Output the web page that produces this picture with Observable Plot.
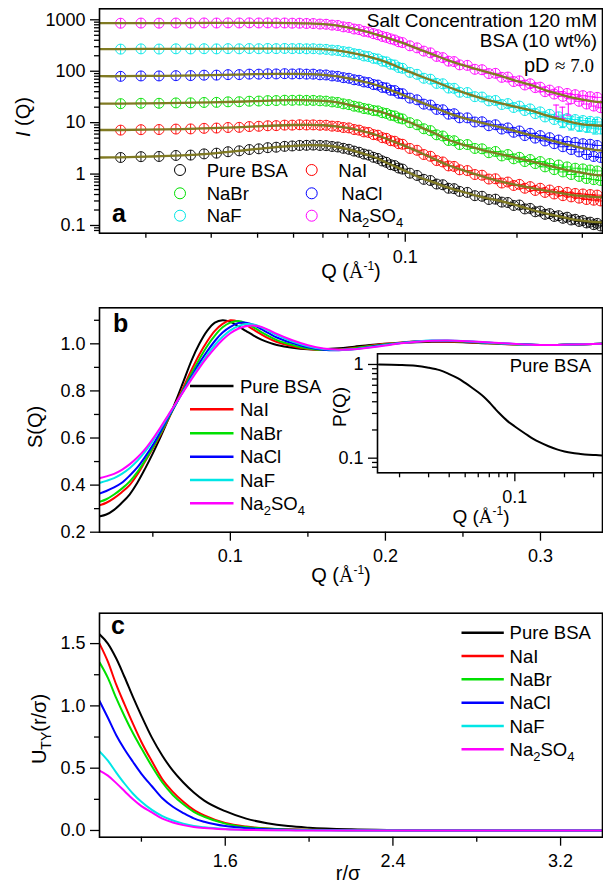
<!DOCTYPE html>
<html><head><meta charset="utf-8">
<script src="https://cdn.jsdelivr.net/npm/d3@7"></script>
<script src="https://cdn.jsdelivr.net/npm/@observablehq/plot@0.6"></script>
<style>
body{margin:0;background:#fff;}
#wrap{position:relative;width:603px;height:884px;overflow:hidden;background:#fff;}
.p{position:absolute;}
.p svg{display:block;overflow:visible;}
</style></head><body><div id="wrap"></div>
<script>
const SANS = "'Liberation Sans', Arial, Helvetica, sans-serif";
const SERIF = "'Liberation Serif', 'Times New Roman', serif";

// ---------- shared ----------
const seriesNames = ["Pure BSA", "NaI", "NaBr", "NaCl", "NaF", "Na2SO4"];
const seriesColors = ["#000000", "#ff0000", "#00e000", "#0000ff", "#00e6e6", "#ff00ff"];
const fitColor = "#807a22";

// ---------- panel a : I(Q) data (markers) ----------
const qData = [0.0171,0.0194,0.0217,0.0241,0.0264,0.0287,0.0310,0.0333,0.0357,0.0380,0.0403,0.0426,0.0449,0.0473,0.0496,0.0519,0.0542,0.0565,0.0589,0.0612,0.0635,0.0658,0.0681,0.0705,0.0728,0.0751,0.0774,0.0797,0.0821,0.0844,0.0867,0.0890,0.0913,0.0937,0.0960,0.0983,
0.1029,0.1076,0.1122,0.1169,0.1215,0.1262,0.1308,0.1354,0.1401,
0.147,0.154,0.161,0.168,0.175,0.182,0.189,0.196,0.203,0.210,0.217,0.224,0.231,0.238,0.245,0.252,0.259,0.266,0.273,0.280,0.287,0.294,0.301,0.308,0.315,0.322,0.329,0.336];
const iPure = [2.1,2.18,2.2,2.3,2.34,2.47,2.55,2.72,2.83,3.0,3.1,3.26,3.33,3.46,3.52,3.6,3.62,3.66,3.6,3.57,3.44,3.36,3.17,3.03,2.8,2.66,2.45,2.34,2.12,2.01,1.8,1.69,1.52,1.46,1.31,1.25,
1.04,0.94,0.79,0.75,0.64,0.62,0.53,0.52,0.46,
0.44,0.38,0.37,0.32,0.325,0.285,0.28,0.245,0.25,0.21,0.215,0.185,0.19,0.165,0.17,0.15,0.155,0.138,0.145,0.128,0.132,0.12,0.125,0.112,0.116,0.104,0.11,0.098];
const iNaI = [7.15,7.3,7.35,7.5,7.55,7.75,7.85,8.05,8.1,8.4,8.5,8.7,8.75,8.95,8.95,9.1,9.0,9.05,8.9,8.9,8.55,8.45,8.05,7.9,7.35,7.15,6.6,6.45,5.85,5.7,5.1,4.95,4.45,4.35,3.9,3.8,
3.15,2.9,2.4,2.22,1.83,1.72,1.44,1.41,1.21,
1.17,0.98,0.95,0.8,0.81,0.67,0.7,0.6,0.63,0.53,0.57,0.48,0.53,0.44,0.49,0.41,0.46,0.38,0.44,0.36,0.42,0.34,0.41,0.32,0.4,0.31,0.39,0.3];
const iNaBr = [23.4,23.8,23.8,24.2,24.3,24.7,24.8,25.4,25.5,26.1,26.3,26.8,26.9,27.3,27.2,27.4,27.1,27.1,26.6,26.2,25.3,24.7,23.2,22.4,20.9,20.1,18.8,18.3,17.2,16.9,15.6,15.1,13.9,13.5,12.3,11.8,
10.0,9.1,7.6,7.0,5.8,5.5,4.5,4.45,3.75,
3.75,3.15,3.1,2.6,2.75,2.25,2.4,1.98,2.12,1.75,1.92,1.6,1.75,1.38,1.6,1.22,1.5,1.1,1.38,0.98,1.3,0.9,1.26,0.82,1.2,0.78,1.15,0.75];
const iNaCl = [79.5,81,81,82,82.3,83.8,84,85.8,86,87.8,87.7,89.2,88.6,89.6,88.5,89.2,87.8,87.8,85.2,84.6,81,79.6,75,73,68.2,66.6,61.8,60.2,55,53.8,48.5,47.4,42.6,42,37.2,36.5,
30,27.8,22.9,22,18.1,17.8,14.6,14.9,12.4,
12.4,10.3,10.4,8.7,9.1,7.5,7.9,6.5,6.9,5.6,6.2,5.0,5.6,4.4,5.1,3.9,4.6,3.4,4.3,3.0,4.1,2.7,3.9,2.4,3.8,2.2,3.6,2.1];
const iNaF = [269,272,270,273,271,274,272,275,273,276,274,277,275,277,275,276,273,274,269,266,257,253,241,235,219,213,198,193,178,173,157,152,137,132,118,114,
95,87,73,70,58,57,47,46.5,39,
38.5,32,31.5,26.5,27,22.5,23.5,19.7,21,17.2,18.5,15,16.2,12.9,14.5,11.5,13,10.3,12,9.3,11.5,8.6,11,8.2,10.6,7.8,10.3,7.5];
const iNa2SO4 = [858,864,861,866,864,869,866,871,868,872,868,871,866,867,860,859,849,846,827,819,789,775,729,710,662,645,598,578,538,512,475,455,426,405,374,360,
312,285,246,228,194,184,157,154,133,
130,109,107,90,91,76,77,63,65,54,57,48,49,40,43,36,40,32.5,37,29,35,26,33.5,23,32,21,31,19.5];

// error bars visible at high Q (NaF, Na2SO4)
const qErrNaF = [0.265, 0.28, 0.295, 0.31, 0.325];
const loErrNaF = [8, 7.2, 6.8, 6.5, 6];
const hiErrNaF = [14, 13, 12.5, 12, 11.5];
const qErrNa2SO4 = [0.255, 0.265, 0.275];
const loErrNa2SO4 = [13, 12, 14];
const hiErrNa2SO4 = [22, 20, 23];

// ---------- panel a : fitted curves ----------
const qFit = [0.015,0.017,0.02,0.025,0.03,0.035,0.04,0.045,0.05,0.055,0.06,0.065,0.07,0.075,0.08,0.085,0.09,0.1,0.11,0.12,0.13,0.14,0.16,0.18,0.2,0.22,0.24,0.26,0.28,0.3,0.32,0.34];
const fitPure = [2.1,2.12,2.18,2.3,2.5,2.8,3.1,3.35,3.55,3.65,3.6,3.4,3.05,2.65,2.3,1.95,1.6,1.15,0.85,0.68,0.55,0.47,0.36,0.3,0.245,0.2,0.17,0.15,0.133,0.124,0.118,0.115];
const fitNaI = [7.2,7.2,7.3,7.5,7.8,8.1,8.5,8.8,9.0,9.05,8.9,8.5,7.9,7.1,6.3,5.5,4.7,3.5,2.6,1.95,1.5,1.25,0.92,0.72,0.61,0.53,0.47,0.43,0.395,0.375,0.36,0.352];
const fitNaBr = [23.5,23.5,23.7,24.2,24.8,25.5,26.3,27,27.3,27.2,26.5,25,22.5,20,18,16.5,14.5,11,8.2,6.2,4.7,3.9,3.0,2.45,2.05,1.75,1.5,1.3,1.15,1.05,0.98,0.94];
const fitNaCl = [80,80,81,82,84,86,88,89,89,88,85,80,73,66,59,52,45,33,25,19.5,15.5,13,10,8.2,6.7,5.6,4.8,4.1,3.6,3.2,3.0,2.85];
const fitNaF = [270,270,271,272,273,274,275,276,276,274,268,255,235,212,190,168,145,105,80,63,50,41,30,24,20,17,13.8,11.8,10.2,9.3,8.9,8.7];
const fitNa2SO4 = [860,860,862,865,868,870,870,868,862,850,825,780,710,640,570,500,440,340,260,205,165,138,104,82,64,53,42,36,31,28,26,25];

// ---------- panel b : S(Q) ----------
const qS = [0.016,0.02,0.025,0.03,0.035,0.04,0.045,0.05,0.055,0.06,0.065,0.07,0.075,0.08,0.085,0.09,0.095,0.1,0.105,0.11,0.115,0.12,0.125,0.13,0.14,0.15,0.16,0.17,0.18,0.19,0.2,0.21,0.22,0.23,0.24,0.25,0.26,0.28,0.3,0.32,0.34];
const sPure = [0.268,0.275,0.295,0.325,0.36,0.41,0.47,0.535,0.605,0.68,0.76,0.845,0.93,1.0,1.055,1.09,1.1,1.093,1.075,1.055,1.035,1.018,1.005,0.995,0.983,0.977,0.977,0.981,0.988,0.995,1.0,1.004,1.007,1.009,1.009,1.007,1.004,0.998,0.995,0.997,1.0];
const sNaI = [0.315,0.325,0.345,0.37,0.40,0.445,0.5,0.555,0.615,0.68,0.75,0.82,0.89,0.955,1.01,1.055,1.085,1.1,1.095,1.08,1.06,1.04,1.022,1.008,0.99,0.978,0.974,0.976,0.983,0.992,1.0,1.006,1.01,1.011,1.01,1.008,1.005,0.998,0.995,0.997,1.0];
const sNaBr = [0.33,0.34,0.36,0.385,0.415,0.455,0.505,0.56,0.62,0.683,0.745,0.81,0.875,0.935,0.99,1.035,1.07,1.09,1.097,1.088,1.07,1.05,1.032,1.016,0.995,0.98,0.974,0.975,0.981,0.99,0.998,1.005,1.01,1.012,1.012,1.01,1.006,0.999,0.995,0.997,1.0];
const sNaCl = [0.365,0.375,0.39,0.41,0.44,0.475,0.52,0.57,0.628,0.688,0.745,0.805,0.862,0.918,0.968,1.012,1.048,1.072,1.088,1.09,1.08,1.062,1.044,1.027,1.003,0.985,0.975,0.973,0.978,0.987,0.996,1.004,1.01,1.013,1.013,1.011,1.007,1.0,0.995,0.997,1.0];
const sNaF = [0.41,0.418,0.43,0.448,0.472,0.503,0.542,0.588,0.64,0.695,0.748,0.802,0.855,0.905,0.952,0.995,1.03,1.057,1.075,1.084,1.082,1.07,1.054,1.037,1.01,0.99,0.978,0.974,0.977,0.985,0.995,1.003,1.01,1.014,1.014,1.012,1.008,1.0,0.995,0.997,1.0];
const sNa2SO4 = [0.43,0.437,0.448,0.465,0.488,0.517,0.553,0.597,0.646,0.698,0.75,0.8,0.85,0.898,0.942,0.982,1.017,1.045,1.064,1.075,1.078,1.072,1.058,1.042,1.015,0.994,0.98,0.975,0.977,0.984,0.993,1.002,1.009,1.013,1.014,1.012,1.009,1.001,0.995,0.997,1.0];

// ---------- inset : P(Q) pure BSA ----------
const qP = [0.015,0.02,0.025,0.03,0.035,0.04,0.045,0.05,0.055,0.06,0.065,0.07,0.075,0.08,0.09,0.1,0.11,0.12,0.13,0.14,0.16,0.18,0.2,0.22,0.25,0.28,0.31,0.34];
const pPure = [1.0,0.99,0.97,0.925,0.87,0.79,0.715,0.635,0.565,0.505,0.45,0.395,0.345,0.305,0.25,0.218,0.194,0.175,0.16,0.149,0.134,0.124,0.118,0.114,0.111,0.109,0.108,0.107];

// ---------- panel c : U_TY(r/sigma) ----------
const rU = [1.0,1.04,1.08,1.12,1.16,1.2,1.25,1.3,1.35,1.4,1.45,1.5,1.6,1.7,1.8,1.9,2.0,2.2,2.4,2.6,2.8,3.0,3.4];
const uPure = [1.575,1.5,1.38,1.23,1.07,0.92,0.745,0.6,0.48,0.385,0.305,0.24,0.155,0.095,0.058,0.035,0.022,0.009,0.004,0.002,0.001,0,0];
const uNaI = [1.5,1.355,1.17,1.01,0.855,0.71,0.555,0.41,0.31,0.23,0.165,0.12,0.06,0.031,0.016,0.009,0.005,0.002,0.001,0,0,0,0];
const uNaBr = [1.35,1.225,1.062,0.915,0.78,0.66,0.515,0.385,0.285,0.21,0.15,0.11,0.055,0.027,0.015,0.008,0.005,0.002,0.001,0,0,0,0];
const uNaCl = [1.04,0.905,0.765,0.65,0.55,0.455,0.355,0.258,0.19,0.14,0.097,0.07,0.035,0.018,0.01,0.005,0.003,0.001,0,0,0,0,0];
const uNaF = [0.635,0.56,0.465,0.375,0.295,0.23,0.165,0.115,0.08,0.055,0.036,0.025,0.012,0.006,0.003,0.002,0.001,0,0,0,0,0,0];
const uNa2SO4 = [0.48,0.44,0.38,0.315,0.25,0.195,0.145,0.095,0.064,0.043,0.028,0.019,0.009,0.004,0.002,0.001,0,0,0,0,0,0,0];

// ---------- ticks ----------
const aYMajor = [0.1, 1, 10, 100, 1000];
const aYMinor = [0.08,0.09,0.2,0.3,0.4,0.5,0.6,0.7,0.8,0.9,2,3,4,5,6,7,8,9,20,30,40,50,60,70,80,90,200,300,400,500,600,700,800,900];
const logXMajor = [0.1];
const logXMinor = [0.02,0.03,0.04,0.05,0.06,0.07,0.08,0.09,0.2,0.3];
const bYMajor = [0.2,0.4,0.6,0.8,1.0];
const bYMinor = [0.3,0.5,0.7,0.9,1.1];
const bXMajor = [0.1,0.2,0.3];
const bXMinor = [0.05,0.15,0.25];
const insetYMajor = [0.1, 1];
const insetYMinor = [0.08,0.09,0.2,0.3,0.4,0.5,0.6,0.7,0.8,0.9];
const cYMajor = [0, 0.5, 1.0, 1.5];
const cYMinor = [0.25, 0.75, 1.25];
const cXMajor = [1.6, 2.4, 3.2];
const cXMinor = [1.2, 2.0, 2.8];

// ---------- helpers ----------
const tidy = (xs, arrays) => arrays.flatMap((ys, k) => xs.map((x, i) => ({x, y: ys[i], s: seriesNames[k]})));
const circlePlus = {
  draw(ctx, size) {
    const r = Math.sqrt(size / Math.PI);
    ctx.moveTo(r, 0); ctx.arc(0, 0, r, 0, 2 * Math.PI);
    ctx.moveTo(-r, 0); ctx.lineTo(r, 0);
    ctx.moveTo(0, -r); ctx.lineTo(0, r);
  }
};
const capSymbol = {
  draw(ctx, size) {
    const r = Math.sqrt(size / Math.PI);
    ctx.moveTo(-r, 0); ctx.lineTo(r, 0);
  }
};
const style = {fontFamily: SANS, fontSize: "18px", color: "black", background: "none", overflow: "visible"};
function axesMarks(xMaj, xMin, yMaj, yMin, xFmt, yFmt) {
  return [
    Plot.axisX({ticks: xMaj, tickSize: 9, tickPadding: 8, tickFormat: xFmt, fontSize: 18, label: null, strokeWidth: 1.3}),
    Plot.axisX({ticks: xMin, tickSize: 5, tickFormat: () => "", label: null, strokeWidth: 1.3}),
    Plot.axisY({ticks: yMaj, tickSize: 9, tickPadding: 5, tickFormat: yFmt, fontSize: 18, label: null, strokeWidth: 1.3}),
    Plot.axisY({ticks: yMin, tickSize: 5, tickFormat: () => "", label: null, strokeWidth: 1.3})
  ];
}
function place(el, left, top) {
  const d = document.createElement("div");
  d.className = "p"; d.style.left = left + "px"; d.style.top = top + "px";
  d.appendChild(el); document.getElementById("wrap").appendChild(d);
}
function label(svg, off, x, y, parts, o = {}) {
  const t = d3.select(svg).append("text")
    .attr("transform", `translate(${x - off[0]},${y - off[1]})` + (o.rotate ? ` rotate(${o.rotate})` : ""))
    .attr("text-anchor", o.anchor || "start")
    .attr("font-family", o.family || SANS)
    .attr("font-size", o.size || 18)
    .attr("font-weight", o.weight || "normal")
    .attr("fill", "black");
  for (const p of parts) {
    const s = typeof p === "string" ? {t: p} : p;
    const ts = t.append("tspan").text(s.t);
    if (s.family) ts.attr("font-family", s.family);
    if (s.italic) ts.attr("font-style", "italic");
    if (s.size) ts.attr("font-size", s.size);
    if (s.dy) ts.attr("dy", s.dy);
  }
  return t;
}
const nameParts = n => n === "Na2SO4"
  ? ["Na", {t: "2", size: 13, dy: 5}, {t: "SO", dy: -5}, {t: "4", size: 13, dy: 5}]
  : [n];
const qTitle = ["Q (", {t: "Å", family: SERIF}, {t: "-1", size: 12, dy: -8}, {t: ")", dy: 8}];
const colorScale = {domain: seriesNames, range: seriesColors};

// ================= PANEL A =================
{
  const top = 0, H = 290;
  const dataA = tidy(qData, [iPure, iNaI, iNaBr, iNaCl, iNaF, iNa2SO4]);
  const fitA = tidy(qFit, [fitPure, fitNaI, fitNaBr, fitNaCl, fitNaF, fitNa2SO4]);
  const errs = [
    ...qErrNaF.map((q, i) => ({x: q, lo: loErrNaF[i], hi: hiErrNaF[i], s: "NaF"})),
    ...qErrNa2SO4.map((q, i) => ({x: q, lo: loErrNa2SO4[i], hi: hiErrNa2SO4[i], s: "Na2SO4"}))
  ];
  const svg = Plot.plot({
    width: 603, height: H,
    marginLeft: 99, marginRight: 1, marginTop: 8.3, marginBottom: H - 232.7,
    x: {type: "log", domain: [0.015, 0.34]},
    y: {type: "log", domain: [0.0708, 1637]},
    color: colorScale,
    style,
    marks: [
      Plot.dot(dataA, {x: "x", y: "y", stroke: "s", fill: "none", r: 5, symbol: circlePlus, strokeWidth: 0.9, clip: true}),
      Plot.ruleX(errs, {x: "x", y1: "lo", y2: "hi", stroke: "s", strokeWidth: 1, clip: true}),
      Plot.dot(errs, {x: "x", y: "lo", stroke: "s", fill: "none", r: 3, symbol: capSymbol, strokeWidth: 1, clip: true}),
      Plot.dot(errs, {x: "x", y: "hi", stroke: "s", fill: "none", r: 3, symbol: capSymbol, strokeWidth: 1, clip: true}),
      Plot.line(fitA, {x: "x", y: "y", z: "s", stroke: fitColor, strokeWidth: 2.3, curve: "catmull-rom", clip: true}),
      ...axesMarks(logXMajor, logXMinor, aYMajor, aYMinor, d => String(d), d => String(d)),
      Plot.frame({stroke: "black", strokeWidth: 1.6})
    ]
  });
  const off = [0, top];
  label(svg, off, 597, 27, ["Salt Concentration 120 mM"], {anchor: "end", size: 19});
  label(svg, off, 597, 47, ["BSA (10 wt%)"], {anchor: "end", size: 19});
  label(svg, off, 594, 72, ["pD ", {t: "≈ 7.0", family: SERIF, size: 19}], {anchor: "end", size: 20});
  label(svg, off, 112, 222, ["a"], {size: 25, weight: "bold"});
  label(svg, off, 30, 117, [{t: "I", italic: true}, " (Q)"], {anchor: "middle", size: 20, rotate: -90});
  label(svg, off, 351, 278, qTitle, {anchor: "middle", size: 20});
  // legend
  const rows = [170, 193.3, 215.7], cx = [180, 311.7], tx = [206.7, 338.3];
  seriesNames.forEach((n, k) => {
    const r = Math.floor(k / 2), c = k % 2;
    d3.select(svg).append("circle").attr("cx", cx[c]).attr("cy", rows[r] - top).attr("r", 5.5)
      .attr("fill", "none").attr("stroke", seriesColors[k]).attr("stroke-width", 1);
    label(svg, off, tx[c] + (k === 3 ? 3 : 0), rows[r] + 6.5, nameParts(n), {size: 18.5});
  });
  place(svg, 0, top);
}

// ================= PANEL B =================
{
  const top = 290, H = 300;
  const dataB = tidy(qS, [sPure, sNaI, sNaBr, sNaCl, sNaF, sNa2SO4]);
  const svg = Plot.plot({
    width: 603, height: H,
    marginLeft: 99, marginRight: 1, marginTop: 307.3 - top, marginBottom: top + H - 531.7,
    x: {domain: [0.0156, 0.34]},
    y: {domain: [0.2, 1.153]},
    color: colorScale,
    style,
    marks: [
      Plot.line(dataB, {x: "x", y: "y", z: "s", stroke: "s", strokeWidth: 2, curve: "catmull-rom", clip: true}),
      ...axesMarks(bXMajor, bXMinor, bYMajor, bYMinor, d => d.toFixed(1), d => d.toFixed(1)),
      Plot.frame({stroke: "black", strokeWidth: 1.6})
    ]
  });
  const off = [0, top];
  label(svg, off, 113, 332, ["b"], {size: 25, weight: "bold"});
  label(svg, off, 42, 427, ["S(Q)"], {anchor: "middle", size: 20, rotate: -90});
  label(svg, off, 341, 582, qTitle, {anchor: "middle", size: 20});
  const rows = [386, 409.3, 433.3, 456.7, 480, 503.3];
  seriesNames.forEach((n, k) => {
    d3.select(svg).append("line").attr("x1", 190).attr("x2", 233.5).attr("y1", rows[k] - top).attr("y2", rows[k] - top)
      .attr("stroke", seriesColors[k]).attr("stroke-width", 2.5);
    label(svg, off, 240, rows[k] + 6.5, nameParts(n), {size: 18.5});
  });
  place(svg, 0, top);
}

// ================= INSET =================
{
  const left = 330, top = 345, W = 273, H = 185;
  const svg = Plot.plot({
    width: W, height: H,
    marginLeft: 377 - left, marginRight: left + W - 602, marginTop: 353.3 - top, marginBottom: top + H - 472.3,
    x: {type: "log", domain: [0.0147, 0.34]},
    y: {type: "log", domain: [0.0698, 1.30]},
    style,
    marks: [
      Plot.frame({fill: "white", stroke: "none"}),
      Plot.line(qP.map((q, i) => ({x: q, y: pPure[i]})), {x: "x", y: "y", stroke: "black", strokeWidth: 2, curve: "catmull-rom", clip: true}),
      ...axesMarks(logXMajor, logXMinor, insetYMajor, insetYMinor, d => String(d), d => String(d)),
      Plot.frame({stroke: "black", strokeWidth: 1.6})
    ]
  });
  const off = [left, top];
  label(svg, off, 591, 372, ["Pure BSA"], {anchor: "end", size: 18.5});
  label(svg, off, 346, 407, ["P(Q)"], {anchor: "middle", size: 19, rotate: -90});
  label(svg, off, 481, 523, qTitle, {anchor: "middle", size: 19});
  place(svg, left, top);
}

// ================= PANEL C =================
{
  const top = 590, H = 294;
  const dataC = tidy(rU, [uPure, uNaI, uNaBr, uNaCl, uNaF, uNa2SO4]);
  const svg = Plot.plot({
    width: 603, height: H,
    marginLeft: 99, marginRight: 1, marginTop: 612.7 - top, marginBottom: top + H - 836.7,
    x: {domain: [1.0, 3.4]},
    y: {domain: [-0.054, 1.744]},
    color: colorScale,
    style,
    marks: [
      Plot.line(dataC, {x: "x", y: "y", z: "s", stroke: "s", strokeWidth: 2, curve: "monotone-x", clip: true}),
      ...axesMarks(cXMajor, cXMinor, cYMajor, cYMinor, d => d.toFixed(1), d => d.toFixed(1)),
      Plot.frame({stroke: "black", strokeWidth: 1.6})
    ]
  });
  const off = [0, top];
  label(svg, off, 111, 634, ["c"], {size: 25, weight: "bold"});
  label(svg, off, 46, 729, ["U", {t: "TY", size: 14, dy: 5}, {t: "(r/σ)", dy: -5}], {anchor: "middle", size: 20, rotate: -90});
  label(svg, off, 348, 880, ["r/σ"], {anchor: "middle", size: 20});
  const rows = [632.7, 656, 679.3, 702.7, 726, 749.3];
  seriesNames.forEach((n, k) => {
    d3.select(svg).append("line").attr("x1", 461.5).attr("x2", 503.8).attr("y1", rows[k] - top).attr("y2", rows[k] - top)
      .attr("stroke", seriesColors[k]).attr("stroke-width", 2.5);
    label(svg, off, 509.6, rows[k] + 6.5, nameParts(n), {size: 18.5});
  });
  place(svg, 0, top);
}
</script>
</body></html>
